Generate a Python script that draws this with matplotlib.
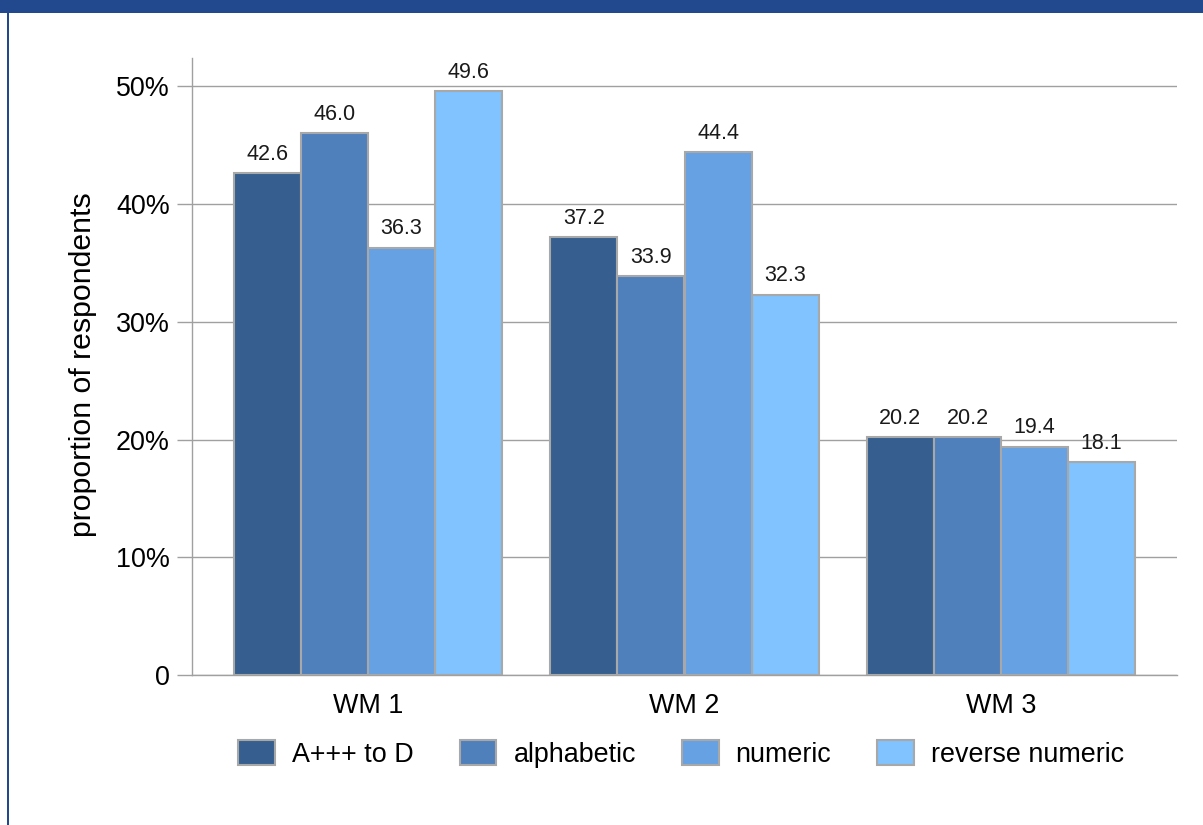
import matplotlib
matplotlib.use('Agg')
import numpy as np
import matplotlib.pyplot as plt
from matplotlib.patches import Rectangle
from matplotlib.ticker import FuncFormatter

plt.rcParams['font.family'] = ['Liberation Sans', 'DejaVu Sans']

groups = ['WM 1', 'WM 2', 'WM 3']
series = ['A+++ to D', 'alphabetic', 'numeric', 'reverse numeric']
a_to_d = [42.6, 37.2, 20.2]
alphabetic = [46.0, 33.9, 20.2]
numeric = [36.3, 44.4, 19.4]
reverse_numeric = [49.6, 32.3, 18.1]
yticks = [0, 10, 20, 30, 40, 50]

colors = ['#365f8f', '#4f80bc', '#66a1e3', '#80c3ff']
edge = '#a8a8a8'
grid = '#a0a0a0'

fig = plt.figure(figsize=(12.03, 8.25), dpi=100)
fig.patch.set_facecolor('white')

# header strip and left border
fig.add_artist(Rectangle((0, 1 - 12.5 / 825), 1, 12.5 / 825, transform=fig.transFigure,
                         facecolor='#22498e', edgecolor='none'))
fig.add_artist(Rectangle((6.5 / 1203, 0), 2 / 1203, 1, transform=fig.transFigure,
                         facecolor='#22498e', edgecolor='none'))

ax = fig.add_axes([192 / 1203, 1 - 675 / 825, 985 / 1203, 617 / 825])

x = np.arange(len(groups))
w = 0.212
for i, (name, vals) in enumerate(zip(series, [a_to_d, alphabetic, numeric, reverse_numeric])):
    bars = ax.bar(x + (i - 1.5) * w, vals, w, color=colors[i], edgecolor=edge,
                  linewidth=1.5, label=name, zorder=3)
    for b, v in zip(bars, vals):
        ax.annotate(f'{v:.1f}', (b.get_x() + b.get_width() / 2, v), xytext=(0, 9.5),
                    textcoords='offset points', ha='center', va='baseline',
                    fontsize=15.5, color='#1a1a1a', zorder=4)

ax.set_xlim(-0.556, 2.556)
ax.set_ylim(0, 52.4)
ax.set_yticks(yticks)
ax.yaxis.set_major_formatter(FuncFormatter(lambda v, p: '0' if v == 0 else f'{v:.0f}%'))
ax.set_xticks(x)
ax.set_xticklabels(groups)
ax.tick_params(axis='x', length=0, pad=13, labelsize=19.4)
ax.tick_params(axis='y', length=11, width=1, color=grid, pad=5, labelsize=19.4)
ax.yaxis.grid(True, color=grid, linewidth=1, zorder=0)

for s in ['top', 'right']:
    ax.spines[s].set_visible(False)
for s in ['left', 'bottom']:
    ax.spines[s].set_color(grid)
    ax.spines[s].set_linewidth(1)

fig.text(83 / 1203, 1 - 365 / 825, 'proportion of respondents', rotation=90,
         ha='center', va='center', fontsize=21.8)

fig.legend(loc='center', bbox_to_anchor=(681 / 1203, 1 - 754 / 825), ncol=4,
           frameon=False, fontsize=19.4, handlelength=1.37, handleheight=1.04,
           handletextpad=0.63, columnspacing=1.7)

plt.savefig('out.png', dpi=100, facecolor='white')
